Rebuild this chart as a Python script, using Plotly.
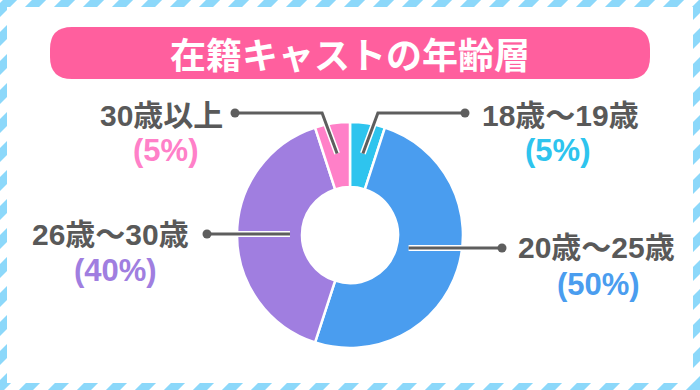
import math
import plotly.graph_objects as go

# ---- data ----
title = "在籍キャストの年齢層"
categories = ["18歳〜19歳", "20歳〜25歳", "26歳〜30歳", "30歳以上"]
values = [5, 50, 40, 5]
colors = ["#2EC4EE", "#4A9DEF", "#A07EE0", "#FF80C8"]

W, H = 700, 390
FONT = "Noto Sans CJK JP"
LFONT = "Liberation Sans, Noto Sans CJK JP"
GRAY = "#595959"

def px(x):
    return x / W

def py(y):
    return 1 - y / H

# pie geometry (pixels)
CX, CY, R = 350, 235, 113
HOLE = 0.425

shapes = []
# striped frame
STRIPE = "#8CD8FA"
x0 = -H
while x0 < W + 30:
    shapes.append(dict(type="line", xref="paper", yref="paper",
                       x0=px(x0), y0=py(H + 10), x1=px(x0 + H + 20), y1=py(-10),
                       line=dict(color=STRIPE, width=10), layer="below"))
    x0 += 29
shapes.append(dict(type="rect", xref="paper", yref="paper",
                   x0=px(7), x1=px(693), y0=py(383), y1=py(7),
                   fillcolor="white", line=dict(width=0), layer="below"))

# title rounded box
bx0, bx1, by0, by1, rr = 50, 650, 27, 79, 22
path = (f"M {px(bx0+rr)} {py(by0)} L {px(bx1-rr)} {py(by0)} "
        f"Q {px(bx1)} {py(by0)} {px(bx1)} {py(by0+rr)} L {px(bx1)} {py(by1-rr)} "
        f"Q {px(bx1)} {py(by1)} {px(bx1-rr)} {py(by1)} L {px(bx0+rr)} {py(by1)} "
        f"Q {px(bx0)} {py(by1)} {px(bx0)} {py(by1-rr)} L {px(bx0)} {py(by0+rr)} "
        f"Q {px(bx0)} {py(by0)} {px(bx0+rr)} {py(by0)} Z")
shapes.append(dict(type="path", xref="paper", yref="paper", path=path,
                   fillcolor="#FF5F9E", line=dict(width=0), layer="below"))

fig = go.Figure()
fig.add_trace(go.Pie(
    labels=categories, values=values, sort=False, direction="clockwise",
    rotation=0, hole=HOLE,
    marker=dict(colors=colors, line=dict(color="white", width=2.5)),
    textinfo="none", hoverinfo="label+percent", showlegend=False,
    domain=dict(x=[px(CX - R), px(CX + R)], y=[py(CY + R), py(CY - R)]),
))

# label layout (pixel positions of the dot, the name line and the percent line)
label_layout = [
    dict(dot=(465, 113), name=(560, 115), pct=(557, 151), kind="elbow"),
    dict(dot=(502, 248), name=(596, 247), pct=(598, 284), kind="side"),
    dict(dot=(207, 234), name=(111, 234), pct=(115, 270), kind="side"),
    dict(dot=(235, 113), name=(161, 115), pct=(165, 151), kind="elbow"),
]

annotations = [dict(text=title, x=0.5, y=py(53), xref="paper", yref="paper",
                    xanchor="center", yanchor="middle",
                    showarrow=False, font=dict(family=FONT, size=36, color="white", weight=700))]

total = sum(values)
cum = 0
for cat, val, col, lay in zip(categories, values, colors, label_layout):
    mid = (cum + val / 2) / total * 2 * math.pi
    cum += val
    dx, dy = lay["dot"]
    sgn = 1 if math.sin(mid) >= 0 else -1
    if lay["kind"] == "elbow":
        rmid = R * (1 + HOLE) / 2 + 2
        sx = CX + rmid * math.sin(mid)
        sy = CY - rmid * math.cos(mid)
        pts = [(sx, sy), (sx + 15 * sgn, dy), (dx, dy)]
    else:
        rr_ = R * HOLE + 12
        off = math.sqrt(max(rr_ ** 2 - (dy - CY) ** 2, 0))
        pts = [(CX + sgn * off, dy), (dx, dy)]
    p = "M " + " L ".join(f"{px(a)} {py(b)}" for a, b in pts)
    shapes.append(dict(type="path", xref="paper", yref="paper", path=p,
                       line=dict(color="white", width=6), layer="above"))
    shapes.append(dict(type="path", xref="paper", yref="paper", path=p,
                       line=dict(color="#5E5E5E", width=3), layer="above"))
    shapes.append(dict(type="circle", xref="paper", yref="paper",
                       x0=px(dx - 4.5), x1=px(dx + 4.5), y0=py(dy + 4.5), y1=py(dy - 4.5),
                       fillcolor="#5E5E5E", line=dict(width=0), layer="above"))
    annotations.append(dict(text=cat, x=px(lay["name"][0]), y=py(lay["name"][1]),
                            xref="paper", yref="paper", showarrow=False,
                            xanchor="center", yanchor="middle", borderpad=0,
                            font=dict(family=LFONT, size=30, color=GRAY, weight=700)))
    annotations.append(dict(text=f"({val}%)", x=px(lay["pct"][0]), y=py(lay["pct"][1]),
                            xref="paper", yref="paper", showarrow=False,
                            xanchor="center", yanchor="middle", borderpad=0,
                            font=dict(family=LFONT, size=31, color=col, weight=700)))

fig.update_layout(
    width=W, height=H, autosize=False,
    margin=dict(l=0, r=0, t=0, b=0),
    paper_bgcolor="white", plot_bgcolor="white",
    shapes=shapes, annotations=annotations,
)
fig.write_html("out.html", config={"displayModeBar": False},
               post_script="document.body.style.margin='0';document.body.style.overflow='hidden';")
